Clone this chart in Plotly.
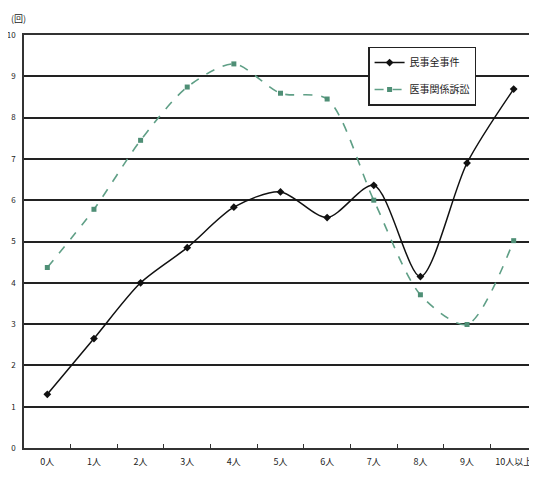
import plotly.graph_objects as go

categories = ["0人", "1人", "2人", "3人", "4人", "5人", "6人", "7人", "8人", "9人", "10人以上"]
series_all = [1.3, 2.65, 4.0, 4.85, 5.83, 6.2, 5.58, 6.36, 4.15, 6.9, 8.69]
series_med = [4.37, 5.78, 7.45, 8.74, 9.3, 8.59, 8.45, 6.0, 3.71, 2.99, 5.02]
name_all = "民事全事件"
name_med = "医事関係訴訟"
y_ticks = list(range(0, 11))

font_family = "Noto Sans CJK JP, Noto Sans, sans-serif"

fig = go.Figure()
fig.add_trace(go.Scatter(
    x=categories, y=series_all, name=name_all, mode="lines+markers",
    legendgroup="a",
    line=dict(color="#111111", width=1.5, shape="spline", smoothing=0.8),
    marker=dict(symbol="diamond", size=6, color="#111111"),
))
fig.add_trace(go.Scatter(
    x=categories, y=series_med, name=name_med, mode="lines+markers",
    legendgroup="b",
    line=dict(color="#5f9f86", width=1.6, dash="dash", shape="spline", smoothing=0.8),
    marker=dict(symbol="square", size=5, color="#4f8f76"),
))

fig.update_layout(
    width=529, height=471,
    margin=dict(l=16, r=7, t=27, b=31),
    paper_bgcolor="white", plot_bgcolor="white",
    font=dict(family=font_family, size=10, color="#222222"),
    showlegend=True,
    legend=dict(
        x=0.68, y=0.972, xanchor="left", yanchor="top",
        bgcolor="white", bordercolor="#222222", borderwidth=1.5,
        font=dict(size=10, color="#222222"),
        traceorder="grouped", tracegroupgap=8,
    ),
    xaxis=dict(
        type="category", range=[-0.5, 10.35], automargin=False,
        tickson="boundaries", ticks="inside", ticklen=4, tickcolor="#333333",
        showgrid=False, showline=True, linecolor="#333333", linewidth=1.5, mirror=True,
        tickfont=dict(size=9, color="#222222"), ticklabelstandoff=4,
    ),
    yaxis=dict(
        range=[0, 10], tickvals=y_ticks, ticktext=[str(v) for v in y_ticks],
        automargin=False,
        showgrid=True, gridcolor="#222222", gridwidth=1.5,
        showline=True, linecolor="#333333", linewidth=1.5, mirror=True,
        tickfont=dict(size=8, color="#222222"), ticks="", ticklabelstandoff=5,
        zeroline=False,
    ),
    annotations=[dict(
        text="(回)", x=0.0, y=1.0, xref="paper", yref="paper",
        xanchor="right", yanchor="bottom", xshift=4, yshift=8,
        showarrow=False, font=dict(size=9, color="#222222"),
    )],
)

fig.write_html("out.html")
